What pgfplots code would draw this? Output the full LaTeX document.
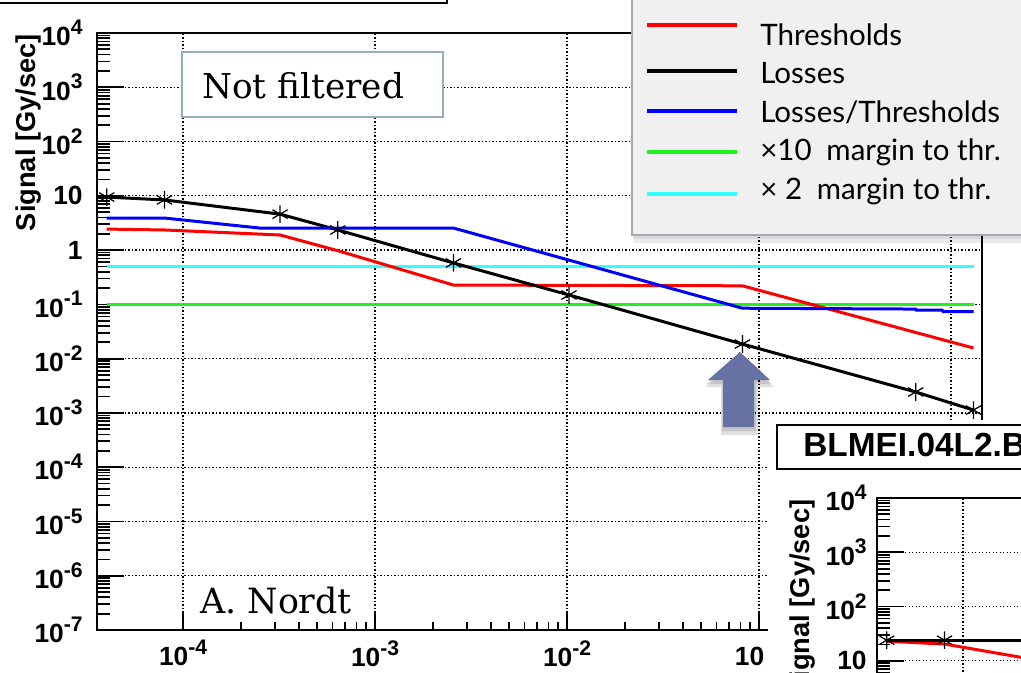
\documentclass[border=0pt]{standalone}
\usepackage{fontspec}
\setmainfont{Liberation Sans}
\newfontfamily\legfont{Lato}
\newfontfamily\serfont{DejaVu Serif}
\usepackage{pgfplots}
\pgfplotsset{compat=1.18}
\definecolor{thrred}{HTML}{FF0000}
\definecolor{lossblue}{HTML}{0000FF}
\definecolor{margreen}{HTML}{22EE22}
\definecolor{marcyan}{HTML}{33FFFF}
\definecolor{boxc}{HTML}{8FB0BC}
\definecolor{arrowc}{HTML}{6672A4}
\definecolor{legbg}{HTML}{F0F0F0}
\definecolor{legborder}{HTML}{A8A8B4}
% ROOT-style exponent
\newcommand\sps[1]{\raisebox{0.42em}{\fontsize{12}{12}\selectfont #1}}

\begin{document}
\begin{tikzpicture}
\useasboundingbox (0,0) rectangle (204.2mm,-134.4mm);
\clip (0,0) rectangle (204.2mm,-134.4mm);

% 1px of the slide = 0.2mm
\begin{axis}[at={(19.4mm,-126mm)}, anchor=south west,
    xmode=log, ymode=log,
    xmin=3.56e-5, xmax=1.442, ymin=1e-7, ymax=1e4,
    scale only axis, width=176.9mm, height=119.4mm,
    axis line style={line width=0.4mm},
    tick style={black, line width=0.35mm},
    tick align=inside, tick pos=left,
    major tick length=5.4mm, minor tick length=2.6mm,
    xtick style={/pgfplots/major tick length=3.4mm, /pgfplots/minor tick length=1.6mm},
    grid=major,
    major grid style={black, line width=0.25mm, dash pattern=on 0.25mm off 0.45mm},
    ticklabel style={font=\fontsize{15}{15}\selectfont\bfseries},
    xtick={1e-4,1e-3,1e-2,1e-1,1},
    xticklabels={10\sps{-4},10\sps{-3},10\sps{-2},10\phantom{\sps{-1}},1},
    ytick={1e-7,1e-6,1e-5,1e-4,1e-3,1e-2,1e-1,1,10,100,1000,10000},
    yticklabels={10\sps{-7},10\sps{-6},10\sps{-5},10\sps{-4},10\sps{-3},10\sps{-2},10\sps{-1},1,10,10\sps{2},10\sps{3},10\sps{4}},
    xticklabel style={anchor=north, inner sep=0pt, yshift=-2.0mm},
    yticklabel style={anchor=east, inner sep=0pt, xshift=-2.8mm},
    ylabel={Signal [Gy/sec]},
    ylabel style={font=\fontsize{15.5}{16}\selectfont\bfseries, at={(axis description cs:-0.0769,0.833)}, anchor=center},
    ]
  \addplot[marcyan, line width=0.45mm] coordinates {(4e-5,0.5) (1.31,0.5)};
  \addplot[margreen, line width=0.6mm] coordinates {(4e-5,0.1) (1.31,0.1)};
  \addplot[thrred, line width=0.6mm] coordinates {(4e-5,2.44) (8e-5,2.35) (3.2e-4,1.90) (6.4e-4,0.975)
      (2.56e-3,0.227) (8.192e-2,0.22) (1.31,0.0157)};
  \addplot[black, line width=0.6mm, mark=asterisk, mark size=5pt, mark options={solid, line width=0.25mm}] coordinates {(4e-5,9.5) (8e-5,8.4)
      (3.2e-4,4.6) (6.4e-4,2.35) (2.56e-3,0.58) (1.024e-2,0.149) (8.192e-2,0.0186)
      (0.655,0.00243) (1.31,0.00113)};
  \addplot[lossblue, line width=0.6mm] coordinates {(4e-5,3.9) (8e-5,3.9) (2.5e-4,2.55) (2.56e-3,2.55)
      (8.192e-2,0.085) (0.655,0.082) (0.66,0.078) (0.9,0.078) (0.91,0.0733) (1.31,0.0733)};
\end{axis}

\begin{scope}[x=0.2mm, y=-0.2mm]
  % title box of the original canvas
  \draw[line width=0.4mm] (-5,3) -- (447,3) -- (447,-5);
  \draw[boxc, fill=white, line width=0.3mm] (182,52) rectangle (443,117);
  \node[anchor=base west, inner sep=0pt, font=\serfont\fontsize{19.5}{20}\selectfont] at (202,98) {Not filtered};
  \node[anchor=base west, inner sep=0pt, font=\serfont\fontsize{19.8}{20}\selectfont] at (200,613) {A. Nordt};
  % arrow
  \fill[black, opacity=0.12] (742,358) -- (774,387) -- (758,387) -- (758,435) -- (721,435) -- (721,387) -- (705,387) -- cycle;
  \fill[black, opacity=0.12] (741,355) -- (772,384) -- (756,384) -- (756,431) -- (722,431) -- (722,384) -- (706,384) -- cycle;
  \fill[arrowc] (740,352) -- (770,380) -- (754,380) -- (754,427) -- (723,427) -- (723,380) -- (708,380) -- cycle;
  % second canvas
  \fill[white] (768,420) rectangle (1040,690);
  \draw[line width=0.4mm, fill=white] (777,425) rectangle (1060,469);
  \node[anchor=base west, inner sep=0pt, font=\bfseries\fontsize{19}{20}\selectfont] at (803,456) {BLMEI.04L2.B1E10};
\end{scope}

\begin{axis}[at={(175.4mm,-219mm)}, anchor=south west,
    xmode=log, ymode=log,
    xmin=3.56e-5, xmax=1.442, ymin=1e-7, ymax=1e4,
    scale only axis, width=176.9mm, height=119.4mm,
    axis line style={line width=0.4mm},
    tick style={black, line width=0.35mm},
    tick align=inside, tick pos=left,
    major tick length=5.4mm, minor tick length=2.6mm,
    grid=major,
    major grid style={black, line width=0.25mm, dash pattern=on 0.25mm off 0.45mm},
    ticklabel style={font=\fontsize{15}{15}\selectfont\bfseries},
    xtick={1e-4,1e-3,1e-2,1e-1,1},
    xticklabels={10\sps{-4},10\sps{-3},10\sps{-2},10\sps{-1},1},
    ytick={1e-7,1e-6,1e-5,1e-4,1e-3,1e-2,1e-1,1,10,100,1000,10000},
    yticklabels={10\sps{-7},10\sps{-6},10\sps{-5},10\sps{-4},10\sps{-3},10\sps{-2},10\sps{-1},1,10,10\sps{2},10\sps{3},10\sps{4}},
    xticklabel style={anchor=north, inner sep=0pt, yshift=-2.0mm},
    yticklabel style={anchor=east, inner sep=0pt, xshift=-2.0mm},
    ylabel={Signal [Gy/sec]},
    ylabel style={font=\fontsize{15.5}{16}\selectfont\bfseries, at={(axis description cs:-0.0837,0.8325)}, anchor=center},
    ]
  \addplot[thrred, line width=0.6mm] coordinates {(4e-5,23) (8e-5,20.4) (3.2e-4,8.7)};
  \addplot[black, line width=0.6mm, mark=asterisk, mark size=5pt, mark options={solid, line width=0.25mm}] coordinates {(4e-5,24) (8e-5,24) (3.2e-4,24)};
\end{axis}

\begin{scope}[x=0.2mm, y=-0.2mm]
  % legend
  \fill[black, opacity=0.08] (634,-10) rectangle (1050,243);
  \fill[black, opacity=0.08] (633,-10) rectangle (1050,239);
  \draw[legborder, fill=legbg, line width=0.3mm] (632,-10) rectangle (1050,235);
  \draw[thrred, line width=0.8mm] (647,25) -- (737,25);
  \draw[black, line width=0.8mm] (647,71) -- (737,71);
  \draw[lossblue, line width=0.8mm] (647,111) -- (737,111);
  \draw[margreen, line width=0.8mm] (647,152) -- (737,152);
  \draw[marcyan, line width=0.8mm] (647,194) -- (737,194);
  \begin{scope}[every node/.style={anchor=base west, inner sep=0pt, font=\legfont\fontsize{16.8}{17}\selectfont}]
    \node at (760,45) {Thresholds};
    \node at (760,83) {Losses};
    \node at (760,122) {Losses/Thresholds};
    \node at (760,160) {×10\enspace margin to thr.};
    \node at (760,199) {× 2\enspace margin to thr.};
  \end{scope}
\end{scope}
\end{tikzpicture}
\end{document}
